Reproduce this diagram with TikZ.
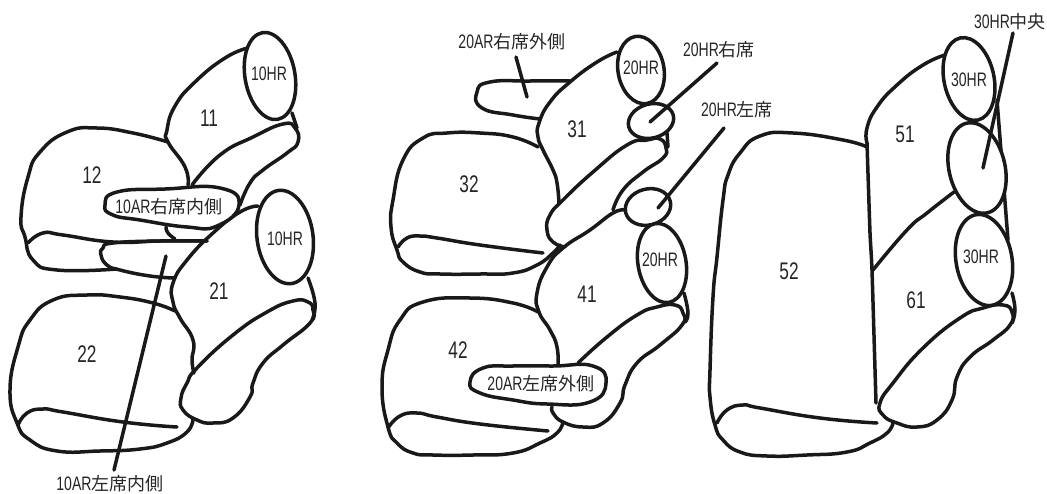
\documentclass[tikz,border=0pt]{standalone}
\usepackage{fontspec}
\usetikzlibrary{shapes.geometric}
\newfontfamily\latf[FakeStretch=0.72]{Liberation Sans}
\newfontfamily\cjkf{Noto Sans CJK JP}
\newcommand{\La}[1]{{\fontsize{19.5}{20}\selectfont\latf #1}}
\newcommand{\Ja}[1]{{\fontsize{18}{20}\selectfont\cjkf #1}}
\tikzset{
  seatline/.style={draw=black!90,line width=3.5pt,line cap=round,line join=round},
  oval/.style={seatline,fill=white},
  headrest/.style={ellipse,seatline,fill=white,inner sep=0pt},
  leader/.style={draw=black!90,line width=3.5pt,line cap=round},
  num/.style={inner sep=0pt,text=black!85,font=\fontsize{24}{24}\selectfont\latf},
  lab/.style={inner sep=0pt,text=black!85},
}
\begin{document}
\begin{tikzpicture}[x=1pt,y=-1pt]
\useasboundingbox (0,0) rectangle (1047,493);
% --- left seat pair ---
\draw[seatline] plot[smooth,tension=0.85] coordinates {(248,48) (225,58) (195,82) (175,106) (167,130) (168,142) (185,167) (188,185)};
\draw[seatline] plot[smooth,tension=0.85] coordinates {(168,142) (133,133) (97,128) (67,132) (40,152) (28,177) (21,217) (25,237) (33,260) (57,270) (117,269)};
\draw[seatline] plot[smooth,tension=0.85] coordinates {(28,243) (43,233) (63,235) (113,242) (160,241) (207,241)};
\draw[seatline] plot[smooth,tension=0.85] coordinates {(192,185) (220,155) (253,137) (283,124) (295,128) (298,142) (287,153) (263,170) (250,183) (240,205)};
\draw[seatline] (292,113) -- (297,128);
\draw[seatline] plot[smooth,tension=0.85] coordinates {(166,227) (168,233) (175,239)};
\draw[seatline] plot[smooth,tension=0.85] coordinates {(207,241) (160,241) (113,243) (103,248) (101,255) (107,265) (120,270) (150,276) (175,278)};
\draw[seatline] plot[smooth,tension=0.85] coordinates {(258,206) (240,212) (213,233) (187,260) (173,283) (173,302) (180,318) (193,340) (192,360) (194,373)};
\draw[seatline] plot[smooth,tension=0.85] coordinates {(308,278) (315,303) (312,320)};
\draw[seatline] plot[smooth cycle,tension=0.85] coordinates {(197,368) (233,335) (267,312) (293,301) (308,302) (313,310) (310,323) (283,345) (263,363) (253,383) (250,397) (233,418) (213,423) (197,420) (183,410) (181,398) (187,383)};
\draw[seatline] plot[smooth,tension=0.85] coordinates {(175,311) (153,303) (120,297) (87,295) (53,300) (30,320) (18,347) (10,390) (17,423) (30,440) (57,451) (100,451) (140,449) (167,443) (187,432) (193,419)};
\draw[seatline] plot[smooth,tension=0.85] coordinates {(18,425) (27,413) (43,409) (63,412) (123,422) (177,427)};
\draw[oval] plot[smooth cycle,tension=0.85] coordinates {(105,205) (117,192) (165,189) (220,188) (239,205) (217,226) (187,227) (140,220) (113,215)};
\node[headrest,minimum width=50pt,minimum height=88pt,rotate=10] (h11) at (270,76) {};
\node[headrest,minimum width=56pt,minimum height=94pt,rotate=8] (h21) at (285,237) {};
% --- middle seat pair ---
\draw[seatline] plot[smooth,tension=0.85] coordinates {(570,81) (530,81) (490,82) (477,92) (482,108) (513,115) (540,119)};
\draw[seatline] plot[smooth,tension=0.85] coordinates {(617,52) (597,62) (570,82) (550,102) (539,123) (538,137) (543,150) (553,170) (557,183) (559,203)};
\draw[seatline] plot[smooth,tension=0.85] coordinates {(565,247) (553,242) (547,230) (550,215) (563,200) (593,172) (627,145) (647,140) (660,139) (666,148) (663,158) (643,172) (623,190) (613,210)};
\draw[seatline] (667,133) -- (668,147);
\draw[seatline] plot[smooth,tension=0.85] coordinates {(538,147) (513,137) (480,133) (447,133) (423,138) (403,160) (393,200) (391,227) (397,250) (403,262) (420,272) (440,274) (480,274) (513,273) (537,265) (553,253) (560,245)};
\draw[seatline] plot[smooth,tension=0.85] coordinates {(398,247) (407,238) (420,236) (437,238) (480,245) (543,253)};
\draw[seatline] plot[smooth,tension=0.85] coordinates {(625,210) (613,213) (590,230) (563,248) (547,267) (537,293) (539,312) (550,330) (557,347) (558,367)};
\draw[seatline] plot[smooth,tension=0.85] coordinates {(684,293) (688,313) (685,322)};
\draw[seatline] plot[smooth,tension=0.85] coordinates {(578,363) (607,337) (637,315) (657,307) (675,305) (683,313) (682,325) (660,345) (637,363) (625,385) (620,403) (603,423) (583,427) (563,422) (553,413) (552,407)};
\draw[seatline] plot[smooth,tension=0.85] coordinates {(538,312) (513,303) (470,298) (423,302) (400,320) (388,350) (382,387) (388,427) (397,443) (413,453) (433,455) (473,455) (513,453) (540,443) (557,433) (563,422)};
\draw[seatline] plot[smooth,tension=0.85] coordinates {(388,428) (400,416) (417,413) (437,417) (480,424) (548,431)};
\draw[oval] plot[smooth cycle,tension=0.85] coordinates {(470,382) (483,368) (513,366) (553,366) (593,366) (606,383) (590,402) (547,404) (513,400) (480,393)};
\node[headrest,minimum width=46pt,minimum height=68pt,rotate=10] (h31) at (641,70) {};
\node[headrest,minimum width=46pt,minimum height=34pt,rotate=15] (s31) at (651,121) {};
\node[headrest,minimum width=46pt,minimum height=36pt,rotate=15] (s41) at (648,207) {};
\node[headrest,minimum width=48pt,minimum height=80pt,rotate=10] (h41) at (662,263) {};
% --- right bench ---
\draw[seatline] plot[smooth,tension=0.85] coordinates {(945,55) (923,65) (897,85) (877,107) (867,128) (867,143)};
\draw[seatline] plot[smooth,tension=0.3] coordinates {(867,143) (870,233) (872,270) (876,403)};
\draw[seatline] plot[smooth,tension=0.85] coordinates {(954,192) (927,213) (907,230) (873,270)};
\draw[seatline] (997,100) -- (1008,240);
\draw[seatline] plot[smooth,tension=0.85] coordinates {(1012,293) (1015,310) (1012,323)};
\draw[seatline] plot[smooth,tension=0.85] coordinates {(867,147) (843,140) (793,133) (760,136) (740,153) (728,175) (723,200) (717,257) (713,297) (710,370) (710,397) (715,425) (723,440) (740,452) (767,456) (807,455) (847,452) (870,443) (887,433) (893,423)};
\draw[seatline] plot[smooth,tension=0.85] coordinates {(717,423) (727,410) (743,405) (760,408) (820,418) (877,423)};
\draw[seatline] plot[smooth cycle,tension=0.85] coordinates {(880,403) (893,383) (923,348) (960,318) (983,308) (1003,305) (1012,312) (1010,325) (993,340) (970,357) (957,377) (952,400) (937,420) (917,427) (897,423) (883,415)};
\node[headrest,minimum width=50pt,minimum height=84pt,rotate=12] (h51) at (969,79) {};
\node[headrest,minimum width=56pt,minimum height=92pt,rotate=13] (m51) at (977,168) {};
\node[headrest,minimum width=56pt,minimum height=92pt,rotate=10] (h61) at (984,260) {};
% --- numbers ---
\node[num] (n11) at (209,118) {11};
\node[num] (n12) at (92,175) {12};
\node[num] (n21) at (219,291) {21};
\node[num] (n22) at (87,354) {22};
\node[num] (n31) at (577,129) {31};
\node[num] (n32) at (469,184) {32};
\node[num] (n41) at (587,294) {41};
\node[num] (n42) at (458,350) {42};
\node[num] (n51) at (905,134) {51};
\node[num] (n52) at (789,271) {52};
\node[num] (n61) at (916,300) {61};
% --- labels ---
\node[lab] at (269,74) {\La{10HR}};
\node[lab] at (285,239) {\La{10HR}};
\node[lab] at (641,68) {\La{20HR}};
\node[lab] at (660,260) {\La{20HR}};
\node[lab] at (969,80) {\La{30HR}};
\node[lab] at (981,257) {\La{30HR}};
\node[lab] (t1) at (169,207) {\La{10AR}\Ja{右席内側}};
\node[lab] (t2) at (110,484) {\La{10AR}\Ja{左席内側}};
\node[lab] (t3) at (512,42) {\La{20AR}\Ja{右席外側}};
\node[lab] (t4) at (541,384) {\La{20AR}\Ja{左席外側}};
\node[lab] (t5) at (719,50) {\La{20HR}\Ja{右席}};
\node[lab] (t6) at (737,110) {\La{20HR}\Ja{左席}};
\node[lab] (t7) at (1010,22) {\La{30HR}\Ja{中央}};
% --- leaders ---
\coordinate (a2) at (166,256); \coordinate (b2) at (114,470);
\coordinate (a3) at (516,57);  \coordinate (b3) at (527,97);
\coordinate (a5) at (717,63);  \coordinate (b5) at (650,122);
\coordinate (a6) at (724,128); \coordinate (b6) at (658,208);
\coordinate (a7) at (1013,33); \coordinate (b7) at (983,168);
\draw[leader] (a2) -- (b2);
\draw[leader] (a3) -- (b3);
\draw[leader] (a5) -- (b5);
\draw[leader] (a6) -- (b6);
\draw[leader] (a7) -- (b7);
\end{tikzpicture}
\end{document}
